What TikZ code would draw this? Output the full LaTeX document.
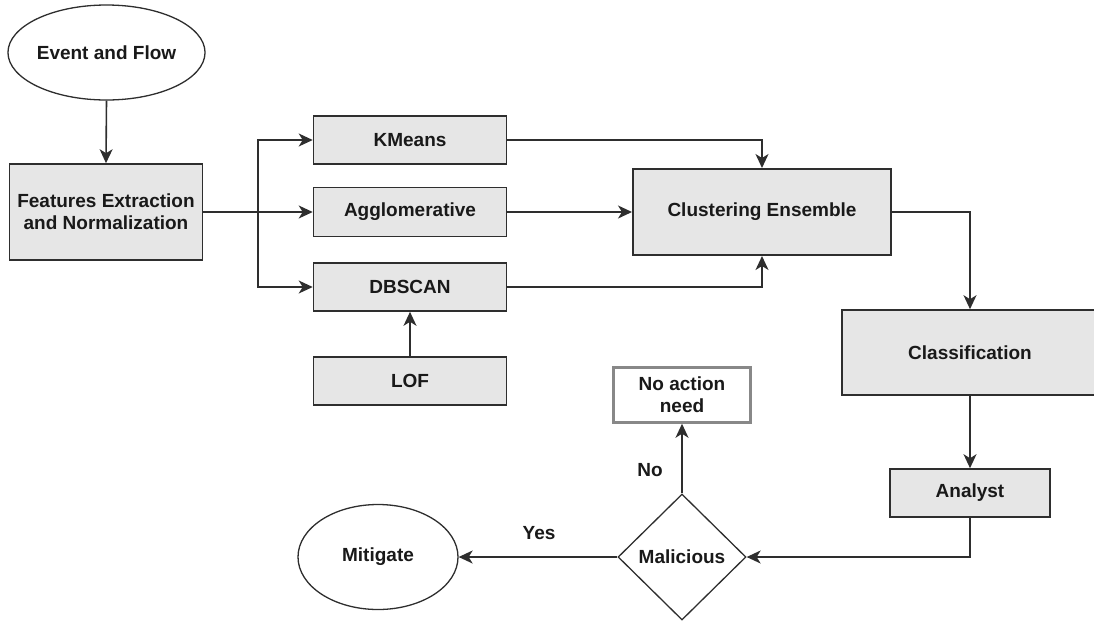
\documentclass[tikz,border=0pt]{standalone}
\usepackage{fontspec}
\setmainfont{Liberation Sans}
\usetikzlibrary{arrows.meta,shapes.geometric,calc}
\definecolor{boxfill}{HTML}{E6E6E6}
\definecolor{boxline}{HTML}{2E2E2E}
\definecolor{paleline}{HTML}{888888}
\begin{document}
\begin{tikzpicture}[x=1pt,y=-1pt,
  every node/.style={font=\fontsize{19}{22}\selectfont\bfseries, text=black!90, align=center, inner sep=0pt},
  procbox/.style={draw=boxline, line width=1.6pt, fill=boxfill, rectangle},
  plainbox/.style={draw=paleline, line width=2.5pt, fill=white, rectangle},
  oval/.style={draw=boxline, line width=1.3pt, ellipse, fill=white},
  decide/.style={draw=boxline, line width=1.3pt, diamond, fill=white},
  flow/.style={line width=1.6pt, draw=boxline, -{Stealth[length=14pt,width=13pt,inset=4pt]}},
  plainline/.style={line width=1.6pt, draw=boxline},
  tag/.style={font=\fontsize{19}{22}\selectfont\bfseries}]
\useasboundingbox (0,0) rectangle (1094,622);

% input and preprocessing
\node[oval, minimum width=169pt, minimum height=95pt] (ev) at (106.5,52.5) {Event and Flow};
\node[procbox, minimum width=193pt, minimum height=96pt] (fe) at (106,212) {Features Extraction\\and Normalization};

% clustering algorithms
\node[procbox, minimum width=193pt, minimum height=48pt] (km) at (410,140) {KMeans};
\node[procbox, minimum width=193pt, minimum height=49pt] (ag) at (410,212) {Agglomerative};
\node[procbox, minimum width=193pt, minimum height=48pt] (db) at (410,287) {DBSCAN};
\node[procbox, minimum width=193pt, minimum height=48pt] (lof) at (410,381) {LOF};

% ensemble and downstream
\node[procbox, line width=2pt, minimum width=258pt, minimum height=86pt] (ce) at (762,212) {Clustering Ensemble};
\node[procbox, minimum width=256pt, minimum height=85pt] (cl) at (970,352.5) {Classification};
\node[procbox, minimum width=160pt, minimum height=48pt] (an) at (970,493) {Analyst};

% decision and outcomes
\node[decide, minimum width=128pt, minimum height=126pt] (ma) at (682,557) {Malicious};
\node[plainbox, minimum width=137pt, minimum height=55pt] (na) at (682,395) {No action\\need};
\node[oval, minimum width=160pt, minimum height=105pt] (mi) at (378,557) {Mitigate};

\coordinate (jn) at (258,212);

% connectors
\draw[flow] (ev.south) -- (fe.north);
\draw[plainline] (fe.east) -- (jn);
\draw[flow] (jn) |- (km.west);
\draw[flow] (jn) -- (ag.west);
\draw[flow] (jn) |- (db.west);
\draw[flow] (lof.north) -- (db.south);

\draw[flow] (km.east) -| (ce.north);
\draw[flow] (ag.east) -- (ce.west);
\draw[flow] (db.east) -| (ce.south);

\draw[flow] (ce.east) -| (cl.north);
\draw[flow] (cl.south) -- (an.north);
\draw[flow] (an.south) |- (ma.east);

\draw[flow] (ma.north) -- (na.south);
\draw[flow] (ma.west) -- (mi.east);

\node[tag] (nolbl) at (650,470) {No};
\node[tag] (yeslbl) at (539,533) {Yes};
\end{tikzpicture}
\end{document}
